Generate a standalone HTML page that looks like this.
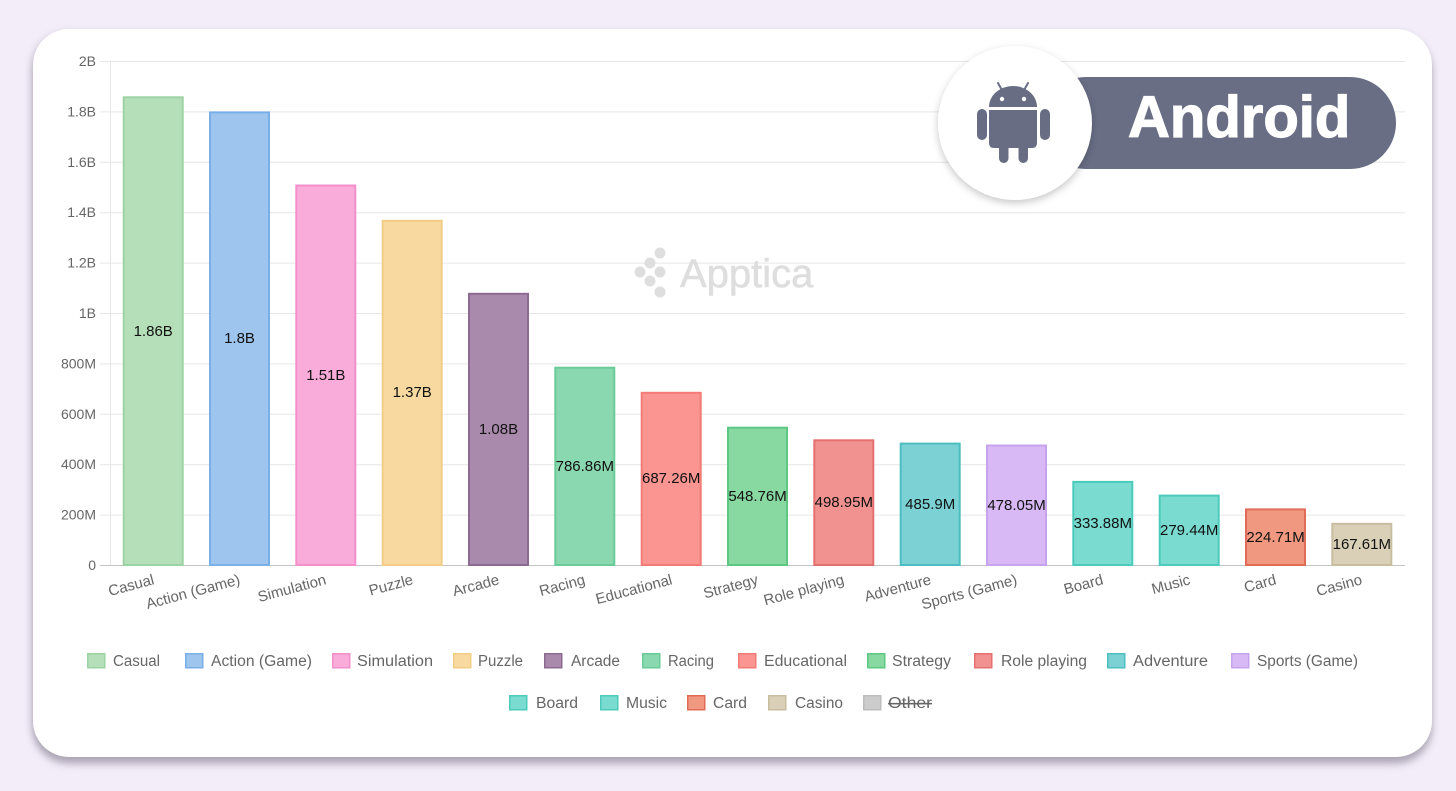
<!DOCTYPE html>
<html><head><meta charset="utf-8"><style>
html,body{margin:0;padding:0;background:#f3edf9;width:1456px;height:791px;overflow:hidden}
.card{position:absolute;left:33px;top:29px;width:1399px;height:728px;border-radius:36px;background:#fff;box-shadow:0 7px 8px rgba(70,60,80,0.35),-2px 2px 8px rgba(70,60,80,0.12)}
svg{position:absolute;left:0;top:0}
</style></head><body>
<div class="card"></div>
<svg width="1456" height="791" viewBox="0 0 1456 791" xmlns="http://www.w3.org/2000/svg" font-family="Liberation Sans, Arial, sans-serif">
<defs>
<filter id="sh" x="-30%" y="-30%" width="160%" height="160%"><feDropShadow dx="0" dy="3" stdDeviation="4" flood-color="#000" flood-opacity="0.22"/></filter>
</defs>
<!-- gridlines -->
<g stroke="#e6e6e6" stroke-width="1">
<line x1="100" y1="61.5" x2="1405" y2="61.5"/>
<line x1="100" y1="111.9" x2="1405" y2="111.9"/>
<line x1="100" y1="162.3" x2="1405" y2="162.3"/>
<line x1="100" y1="212.7" x2="1405" y2="212.7"/>
<line x1="100" y1="263.1" x2="1405" y2="263.1"/>
<line x1="100" y1="313.5" x2="1405" y2="313.5"/>
<line x1="100" y1="363.9" x2="1405" y2="363.9"/>
<line x1="100" y1="414.3" x2="1405" y2="414.3"/>
<line x1="100" y1="464.7" x2="1405" y2="464.7"/>
<line x1="100" y1="515.1" x2="1405" y2="515.1"/>
<line x1="110.5" y1="61" x2="110.5" y2="565"/>
</g>
<line x1="100" y1="565.5" x2="1405" y2="565.5" stroke="#c4c4c4" stroke-width="1"/>
<!-- y labels -->
<g font-size="14" fill="#666" text-anchor="end">
<text x="96" y="66">2B</text>
<text x="96" y="116.4">1.8B</text>
<text x="96" y="166.8">1.6B</text>
<text x="96" y="217.2">1.4B</text>
<text x="96" y="267.6">1.2B</text>
<text x="96" y="318">1B</text>
<text x="96" y="368.4">800M</text>
<text x="96" y="418.8">600M</text>
<text x="96" y="469.2">400M</text>
<text x="96" y="519.6">200M</text>
<text x="96" y="570">0</text>
</g>
<!-- watermark -->
<g fill="#dedede">
<circle cx="640" cy="272" r="5.5"/>
<circle cx="650" cy="263" r="5.5"/>
<circle cx="650" cy="281" r="5.5"/>
<circle cx="660" cy="253" r="5.5"/>
<circle cx="660" cy="272" r="5.5"/>
<circle cx="660" cy="292" r="5.5"/>
<text x="680" y="287" font-size="40" stroke="#dedede" stroke-width="0.6">Apptica</text>
</g>
<!-- bars -->
<g stroke-width="2">
<rect x="123.7" y="97.3" width="59" height="467.7" fill="#b4dfb8" stroke="#9dd3a2"/>
<rect x="210" y="112.4" width="59" height="452.6" fill="#9dc5ee" stroke="#7aaee6"/>
<rect x="296.3" y="185.5" width="59" height="379.5" fill="#f9acd9" stroke="#f38fcb"/>
<rect x="382.7" y="220.8" width="59" height="344.2" fill="#f8daa0" stroke="#f2cd85"/>
<rect x="469" y="293.8" width="59" height="271.2" fill="#a98aac" stroke="#8c6a92"/>
<rect x="555.3" y="367.7" width="59" height="197.3" fill="#8ad8b0" stroke="#6acb99"/>
<rect x="641.7" y="392.8" width="59" height="172.2" fill="#fa9592" stroke="#f27a77"/>
<rect x="728" y="427.7" width="59" height="137.3" fill="#88d8a1" stroke="#5ec882"/>
<rect x="814.3" y="440.3" width="59" height="124.7" fill="#f29290" stroke="#e4706f"/>
<rect x="900.7" y="443.6" width="59" height="121.4" fill="#7bd1d3" stroke="#4cbdc0"/>
<rect x="987" y="445.5" width="59" height="119.5" fill="#d9b9f5" stroke="#c7a3ee"/>
<rect x="1073.3" y="481.9" width="59" height="83.1" fill="#7adcd0" stroke="#4ccbbd"/>
<rect x="1159.7" y="495.6" width="59" height="69.4" fill="#7adcd0" stroke="#4ccbbd"/>
<rect x="1246" y="509.4" width="59" height="55.6" fill="#f09880" stroke="#e06c57"/>
<rect x="1332.3" y="523.8" width="59" height="41.2" fill="#d9d0b7" stroke="#c8bd9e"/>
</g>
<!-- value labels -->
<g font-size="15" fill="#111" text-anchor="middle">
<text x="153.2" y="336">1.86B</text>
<text x="239.5" y="343">1.8B</text>
<text x="325.8" y="380">1.51B</text>
<text x="412.2" y="397">1.37B</text>
<text x="498.5" y="434">1.08B</text>
<text x="584.8" y="471">786.86M</text>
<text x="671.2" y="483">687.26M</text>
<text x="757.5" y="501">548.76M</text>
<text x="843.8" y="507">498.95M</text>
<text x="930.2" y="509">485.9M</text>
<text x="1016.5" y="510">478.05M</text>
<text x="1102.8" y="528">333.88M</text>
<text x="1189.2" y="535">279.44M</text>
<text x="1275.5" y="542">224.71M</text>
<text x="1361.8" y="549">167.61M</text>
</g>
<!-- x labels -->
<g font-size="15" fill="#666" text-anchor="end">
<text transform="translate(155,584) rotate(-15)">Casual</text>
<text transform="translate(241,584) rotate(-15)">Action (Game)</text>
<text transform="translate(327,584) rotate(-15)">Simulation</text>
<text transform="translate(414,584) rotate(-15)">Puzzle</text>
<text transform="translate(500,584) rotate(-15)">Arcade</text>
<text transform="translate(586,584) rotate(-15)">Racing</text>
<text transform="translate(673,584) rotate(-15)">Educational</text>
<text transform="translate(759,584) rotate(-15)">Strategy</text>
<text transform="translate(845,584) rotate(-15)">Role playing</text>
<text transform="translate(932,584) rotate(-15)">Adventure</text>
<text transform="translate(1018,584) rotate(-15)">Sports (Game)</text>
<text transform="translate(1104,584) rotate(-15)">Board</text>
<text transform="translate(1191,584) rotate(-15)">Music</text>
<text transform="translate(1277,584) rotate(-15)">Card</text>
<text transform="translate(1363,584) rotate(-15)">Casino</text>
</g>
<!-- legend -->
<g stroke-width="1.5">
<rect x="87.75" y="653.75" width="17" height="14" fill="#b4dfb8" stroke="#9dd3a2"/>
<rect x="185.75" y="653.75" width="17" height="14" fill="#9dc5ee" stroke="#7aaee6"/>
<rect x="332.75" y="653.75" width="17" height="14" fill="#f9acd9" stroke="#f38fcb"/>
<rect x="453.75" y="653.75" width="17" height="14" fill="#f8daa0" stroke="#f2cd85"/>
<rect x="544.75" y="653.75" width="17" height="14" fill="#a98aac" stroke="#8c6a92"/>
<rect x="642.75" y="653.75" width="17" height="14" fill="#8ad8b0" stroke="#6acb99"/>
<rect x="738.75" y="653.75" width="17" height="14" fill="#fa9592" stroke="#f27a77"/>
<rect x="867.75" y="653.75" width="17" height="14" fill="#88d8a1" stroke="#5ec882"/>
<rect x="974.75" y="653.75" width="17" height="14" fill="#f29290" stroke="#e4706f"/>
<rect x="1107.75" y="653.75" width="17" height="14" fill="#7bd1d3" stroke="#4cbdc0"/>
<rect x="1231.75" y="653.75" width="17" height="14" fill="#d9b9f5" stroke="#c7a3ee"/>
<rect x="509.75" y="695.75" width="17" height="14" fill="#7adcd0" stroke="#4ccbbd"/>
<rect x="600.75" y="695.75" width="17" height="14" fill="#7adcd0" stroke="#4ccbbd"/>
<rect x="687.75" y="695.75" width="17" height="14" fill="#f09880" stroke="#e06c57"/>
<rect x="768.75" y="695.75" width="17" height="14" fill="#d9d0b7" stroke="#c8bd9e"/>
<rect x="863.75" y="695.75" width="17" height="14" fill="#cccccc" stroke="#bdbdbd"/>
</g>
<g font-size="15.5" fill="#666">
<text x="113" y="666" textLength="47" lengthAdjust="spacingAndGlyphs">Casual</text>
<text x="211" y="666" textLength="101" lengthAdjust="spacingAndGlyphs">Action (Game)</text>
<text x="357" y="666" textLength="76" lengthAdjust="spacingAndGlyphs">Simulation</text>
<text x="478" y="666" textLength="45" lengthAdjust="spacingAndGlyphs">Puzzle</text>
<text x="571" y="666" textLength="49" lengthAdjust="spacingAndGlyphs">Arcade</text>
<text x="668" y="666" textLength="46" lengthAdjust="spacingAndGlyphs">Racing</text>
<text x="764" y="666" textLength="83" lengthAdjust="spacingAndGlyphs">Educational</text>
<text x="892" y="666" textLength="59" lengthAdjust="spacingAndGlyphs">Strategy</text>
<text x="1001" y="666" textLength="86" lengthAdjust="spacingAndGlyphs">Role playing</text>
<text x="1133" y="666" textLength="75" lengthAdjust="spacingAndGlyphs">Adventure</text>
<text x="1257" y="666" textLength="101" lengthAdjust="spacingAndGlyphs">Sports (Game)</text>
<text x="536" y="708" textLength="42" lengthAdjust="spacingAndGlyphs">Board</text>
<text x="626" y="708" textLength="41" lengthAdjust="spacingAndGlyphs">Music</text>
<text x="713" y="708" textLength="34" lengthAdjust="spacingAndGlyphs">Card</text>
<text x="795" y="708" textLength="48" lengthAdjust="spacingAndGlyphs">Casino</text>
<text x="888" y="708" textLength="44" lengthAdjust="spacingAndGlyphs" text-decoration="line-through">Other</text>
</g>
<!-- Android badge -->
<rect x="1040" y="77" width="356" height="92" rx="46" fill="#696e85"/>
<text x="1128" y="137" font-size="58" font-weight="bold" fill="#fff" stroke="#fff" stroke-width="1.2">Android</text>
<circle cx="1015" cy="123" r="77" fill="#fff" filter="url(#sh)"/>
<g fill="#686d84">
<path d="M989 107 A24 21 0 0 1 1037 107 Z"/>
<line x1="998" y1="83" x2="1003" y2="92" stroke="#686d84" stroke-width="2" stroke-linecap="round"/>
<line x1="1028" y1="83" x2="1023" y2="92" stroke="#686d84" stroke-width="2" stroke-linecap="round"/>
<path d="M989 110 H1037 V143 Q1037 148 1032 148 H994 Q989 148 989 143 Z"/>
<rect x="977" y="109" width="10" height="31" rx="5"/>
<rect x="1040" y="109" width="10" height="31" rx="5"/>
<rect x="999" y="140" width="9.5" height="23" rx="4.75"/>
<rect x="1018.5" y="140" width="9.5" height="23" rx="4.75"/>
<circle cx="1002" cy="99" r="2.2" fill="#fff"/>
<circle cx="1024" cy="99" r="2.2" fill="#fff"/>
</g>
</svg>
</body></html>
